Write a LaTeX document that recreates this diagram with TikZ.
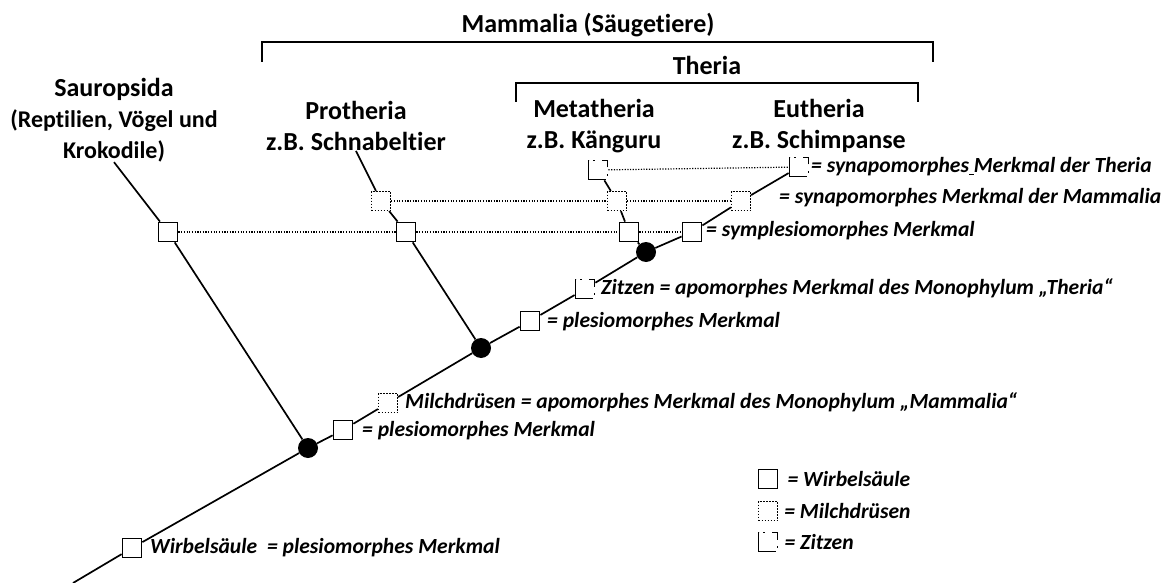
\documentclass[tikz,border=0pt]{standalone}
\usepackage{fontspec}
\setmainfont[Ligatures=NoCommon]{Carlito}
\usepackage{tikz}
\usetikzlibrary{positioning}
\tikzset{
  merkmal/.style={draw, fill=white, minimum size=19pt, inner sep=0pt, line width=1.8pt},
  wirbel/.style={merkmal},
  milch/.style={merkmal, line width=1.2pt, dash pattern=on 1.4pt off 1.6pt},
  zitzen/.style={merkmal, dash pattern=on 17pt off 6pt on 2pt off 6pt on 13pt off 7pt on 2pt off 4pt on 19pt off 0.1pt},
  knot/.style={circle, fill=black, minimum size=20pt, inner sep=0pt},
  ast/.style={line width=1.7pt},
  reihe/.style={line width=1.2pt, dash pattern=on 1.2pt off 1.5pt},
  klammer/.style={line width=1.7pt},
  taxon/.style={font=\fontsize{26}{31}\selectfont\bfseries, align=center, inner sep=0pt},
  merktext/.style={font=\fontsize{21.6}{25}\selectfont\bfseries\itshape, anchor=west, inner sep=0pt}
}

\begin{document}
\begin{tikzpicture}[x=1pt, y=-1pt]
  \useasboundingbox (0,0) rectangle (1162,583);
  % Taxa und Klammern
  \node[taxon] (mamm) at (588,25) {Mammalia (Säugetiere)};
  \node[taxon] (ther) at (707,65) {Theria};
  \node[taxon] (sauro) at (114,120) {Sauropsida\\{\fontsize{24}{30}\selectfont(Reptilien, Vögel und}\\{\fontsize{24}{30}\selectfont Krokodile)}};
  \node[taxon] (proth) at (356,126) {Protheria\\z.B. Schnabeltier};
  \node[taxon] (meta) at (594,126) {Metatheria\\z.B. Känguru};
  \node[taxon] (euth) at (819,126) {Eutheria\\z.B. Schimpanse};
  \draw[klammer] (262,62) |- (933,42) -- (933,62);
  \draw[klammer] (516,102) |- (918,83) -- (918,102);

  % Stamm
  \coordinate (root) at (73,583);
  \node[wirbel] (w0) at (132,548) {};
  \node[knot] (n1) at (308,448) {};
  \node[wirbel] (p1) at (343,430) {};
  \node[milch] (m0) at (388,403) {};
  \node[knot] (n2) at (481,348) {};
  \node[wirbel] (p2) at (530,321) {};
  \node[zitzen] (z0) at (585,289) {};
  \node[knot] (n3) at (646,252) {};
  \node[wirbel] (s3) at (692,232) {};
  \node[milch] (m3) at (741,201) {};
  \node[zitzen] (z3) at (799,167) {};

  % Seitenaeste
  \node[wirbel] (s1) at (168,232) {};
  \node[milch] (m1) at (381,201) {};
  \node[wirbel] (s2) at (406,232) {};
  \node[zitzen] (z2) at (598,170) {};
  \node[milch] (m2) at (617,201) {};
  \node[wirbel] (s4) at (629,232) {};

  \foreach \a/\b in {root/w0, w0/n1, n1/p1, p1/m0, m0/n2, n2/p2, p2/z0, z0/n3, n3/s3, s3/m3, m3/z3,
                     s1/n1, m1/s2, s2/n2, z2/m2, m2/s4, s4/n3}
    {\draw[ast] (\a) -- (\b);}
  \draw[ast] (sauro.south) -- (s1);
  \draw[ast] (proth.south) -- (m1);
  \draw[reihe] (s1) -- (s2) -- (s4) -- (s3);
  \draw[reihe] (m1) -- (m2) -- (m3);
  \draw[reihe] (z2) -- (z3);

  % Merkmale
  \node[merktext] (tz3) at (811,167) {= synapomorphes\underline{\hspace{0.22em}}Merkmal der Theria};
  \node[merktext] (tm3) at (779,198) {= synapomorphes Merkmal der Mammalia};
  \node[merktext] (ts3) at (706,231) {= symplesiomorphes Merkmal};
  \node[merktext] (tz0) at (601,288) {Zitzen = apomorphes Merkmal des Monophylum „Theria“};
  \node[merktext] (tp2) at (547,322) {= plesiomorphes Merkmal};
  \node[merktext] (tm0) at (405,402) {Milchdrüsen = apomorphes Merkmal des Monophylum „Mammalia“};
  \node[merktext] (tp1) at (362,431) {= plesiomorphes Merkmal};
  \node[merktext] (tw0) at (150,548) {Wirbelsäule\ \ = plesiomorphes Merkmal};

  % Legende
  \node[wirbel] (lw) at (768,479) {};
  \node[milch] (lm) at (768,511) {};
  \node[zitzen] (lz) at (768,542) {};
  \node[merktext, right=9pt of lw] (tlw) {= Wirbelsäule};
  \node[merktext, right=6pt of lm] (tlm) {= Milchdrüsen};
  \node[merktext, right=6pt of lz] (tlz) {= Zitzen};
\end{tikzpicture}
\end{document}
